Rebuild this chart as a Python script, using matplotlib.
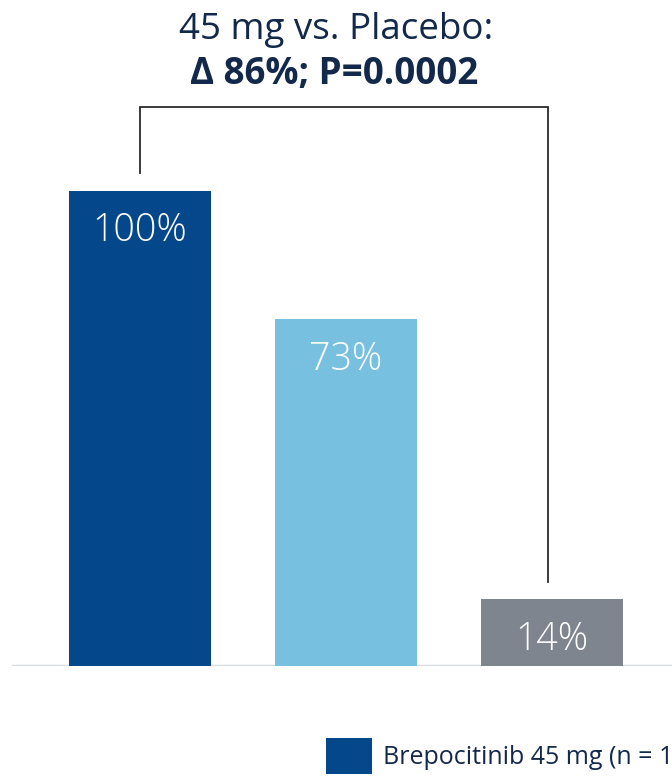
import matplotlib.pyplot as plt
from matplotlib.patches import Patch

plt.rcParams['font.family'] = ['Open Sans', 'DejaVu Sans']

groups = ['Brepocitinib 45 mg', 'Brepocitinib 15 mg', 'Placebo']
values = [100, 73, 14]
value_labels = ['100%', '73%', '14%']
colors = ['#04478a', '#77c0e0', '#7f858e']
legend_label = 'Brepocitinib 45 mg (n = 10)'
navy = '#13294b'

fig = plt.figure(figsize=(6.72, 7.79), dpi=100)
ax = fig.add_axes([0, 113 / 779, 1, 666 / 779])

x = list(range(len(values)))
ax.bar(x, values, width=0.69, color=colors, zorder=2)
for xi, v, lab in zip(x, values, value_labels):
    ax.text(xi, v - 10.6, lab, ha='center', va='baseline', color='white',
            fontsize=27, fontweight='light')

ax.set_xlim(-140 / 206, 532 / 206)
ax.set_ylim(0, 140.2)
ax.axis('off')

# baseline
ax.axhline(0, xmin=13 / 672, xmax=1, color='#d8dcdf', lw=2.5, zorder=1)

# comparison bracket 45 mg vs placebo
top = 117.7
ax.plot([0, 0, 1.98, 1.98], [values[0] + 3.8, top, top, values[2] + 3.7],
        color='#2b2b2b', lw=1.3, solid_joinstyle='miter')

fig.text(0.500, 1 - 39 / 779, '45 mg vs. Placebo:', ha='center', va='baseline',
         fontsize=26.5, color=navy)
fig.text(0.497, 1 - 84 / 779, 'Δ 86%; P=0.0002', ha='center', va='baseline',
         fontsize=26.5, fontweight='bold', color=navy)

handle = Patch(facecolor=colors[0], edgecolor='none')
fig.legend([handle], [legend_label], loc='upper left',
           bbox_to_anchor=(326 / 672, 1 - 738 / 779), frameon=False,
           borderpad=0, handlelength=1.84, handleheight=1.84,
           handletextpad=0.45, fontsize=18, labelcolor=navy,
           borderaxespad=0)

fig.savefig('out.png', dpi=100)
